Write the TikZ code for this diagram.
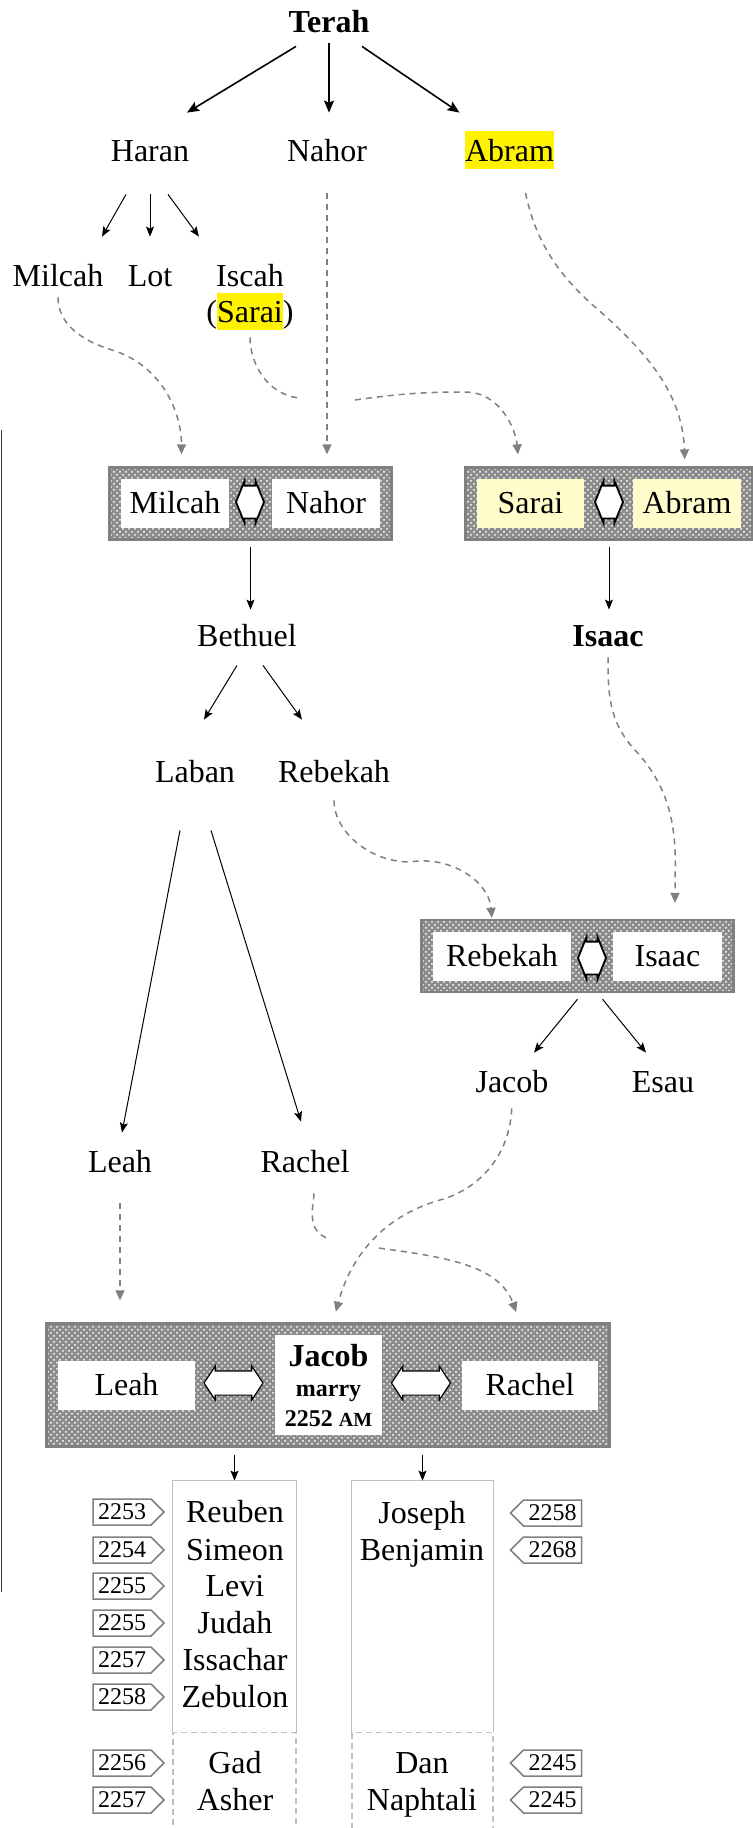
\documentclass[tikz,border=0pt]{standalone}
\usepackage{fontspec}
\setmainfont{Liberation Serif}
\usetikzlibrary{arrows.meta,positioning,shapes.arrows,shapes.symbols,patterns,fit,backgrounds}

\newcommand{\hlname}[1]{{\setlength{\fboxsep}{0pt}\colorbox{yellow}{\rule[-4pt]{0pt}{18.5pt}#1}}}

\tikzset{
  person/.style={inner sep=0pt, text height=11pt, text depth=4pt, anchor=base, font=\fontsize{16}{19}\selectfont},
  spouse/.style={fill=white, inner sep=0pt, minimum height=24.5pt, text height=11pt, text depth=1pt, font=\fontsize{16}{19}\selectfont},
  groom/.style={fill=white, inner sep=0pt, minimum width=53.5pt, minimum height=50pt, align=center, font=\bfseries\fontsize{12}{15}\selectfont},
  couple/.style={draw=gray, line width=1.25pt, preaction={fill=gray!90}, pattern=crosshatch dots, pattern color=white, inner sep=5.5pt},
  wedlock/.style={double arrow, draw, fill=white, line width=0.9pt, inner xsep=0pt, inner ysep=7.75pt, text height=0pt, text depth=0pt, minimum height=14pt, double arrow head extend=2.25pt, double arrow tip angle=136},
  wedlockwide/.style={wedlock, line width=0.6pt, inner ysep=5.75pt, minimum height=29.5pt, double arrow head extend=2.5pt, double arrow tip angle=113},
  kid/.style={-{Stealth[length=5pt,width=4pt,inset=1pt]}, line width=0.5pt},
  bigkid/.style={-{Stealth[length=6pt,width=5pt,inset=1pt]}, line width=0.8pt},
  wed/.style={draw=gray, line width=0.75pt, dash pattern=on 3pt off 2.5pt},
  wedto/.style={wed, -{Triangle[length=5pt,width=4.5pt]}},
  sonbox/.style={minimum height=125.5pt, inner sep=0pt},
  sonline/.style={draw=gray!50, line width=0.75pt},
  maidbox/.style={draw=gray!50, line width=0.75pt, dash pattern=on 3pt off 2pt, minimum height=59pt, inner sep=0pt},
  yeartag/.style={signal, draw=gray, line width=0.75pt, fill=white, inner xsep=2.5pt, inner ysep=0pt, minimum height=13pt, signal pointer angle=90, font=\fontsize{12}{14}\selectfont}
}

\begin{document}
\begin{tikzpicture}[x=0.5pt, y=-0.5pt]
\useasboundingbox (0,0) rectangle (752,1828);

% page edge
\draw[black!80, line width=0.75pt] (1.5,430) -- (1.5,1592);

% Terah and his sons
\node[person, font=\fontsize{16}{19}\selectfont\bfseries] (terah) at (329,32) {Terah};
\node[person] (haran) at (150,161) {Haran};
\node[person] (nahor) at (327,161) {Nahor};
\node[person, fill=yellow, text height=15pt] (abram) at (509.5,161) {Abram};

\node[person] (milcah) at (58,286) {Milcah};
\node[person] (lot) at (150,286) {Lot};
\node[person] (iscah) at (250,286) {Iscah};
\node[person] (iscahsarai) at (250,322) {(\hlname{Sarai})};

\draw[bigkid] ([xshift=-16.5pt,yshift=-3pt]terah.south) -- ([xshift=18.5pt,yshift=13pt]haran.north);
\draw[bigkid] ([yshift=-1.5pt]terah.south) -- ([xshift=1pt,yshift=13pt]nahor.north);
\draw[bigkid] ([xshift=16.5pt,yshift=-3pt]terah.south) -- ([xshift=-25pt,yshift=9pt]abram.north);

\draw[kid] ([xshift=-12pt,yshift=-12.5pt]haran.south) -- ([xshift=22pt,yshift=13.5pt]milcah.north);
\draw[kid] ([yshift=-12.5pt]haran.south) -- ([yshift=13.5pt]lot.north);
\draw[kid] ([xshift=9pt,yshift=-12.5pt]haran.south) -- ([xshift=-25.5pt,yshift=13.5pt]iscah.north);

% first marriages
\node[spouse, minimum width=54pt] (cMilcah) at (175,503.5) {Milcah};
\node[spouse, minimum width=54pt] (cNahor) at (326,503.5) {Nahor};
\node[wedlock] (aMN) at (250,502) {};

\node[spouse, minimum width=53.5pt, fill=yellow!20] (cSarai) at (530.5,503.5) {Sarai};
\node[spouse, minimum width=54pt, fill=yellow!20] (cAbram) at (687,503.5) {Abram};
\node[wedlock] (aSA) at (609,502) {};

\begin{scope}[on background layer]
  \node[couple, fit=(cMilcah)(cNahor)] (milcahnahor) {};
  \node[couple, fit=(cSarai)(cAbram)] (saraiabram) {};
\end{scope}

\draw[wedto, shorten <=1.5pt, shorten >=6pt] (milcah.south) to[out=-90,in=163] (112,350) to[out=-17,in=90] ([xshift=-34.5pt]milcahnahor.north);
\draw[wedto, shorten <=12pt, shorten >=6pt] (nahor.south) -- (nahor.south |- milcahnahor.north);
\coordinate (sgapL) at (300,398);
\coordinate (sgapR) at (355,400);
\draw[wed, shorten <=3.5pt] (iscahsarai.south) to[out=-90,in=175] (sgapL);
\draw[wedto, shorten >=6pt] (sgapR) to[out=8,in=180] (465,392) to[out=0,in=95] ([xshift=-45pt]saraiabram.north);
\draw[wedto, shorten <=12pt, shorten >=3.5pt] ([xshift=5.5pt]abram.south) to[out=-78,in=139] (595,307) to[out=-41,in=92] ([xshift=38pt]saraiabram.north);

% next generation
\node[person] (bethuel) at (247,646) {Bethuel};
\node[person, font=\fontsize{16}{19}\selectfont\bfseries] (isaac) at (608,646) {Isaac};
\node[person] (laban) at (195,782) {Laban};
\node[person] (rebekah) at (334,782) {Rebekah};

\draw[kid, shorten <=3pt, shorten >=7pt] (milcahnahor.south) -- (milcahnahor.south |- bethuel.north);
\draw[kid, shorten <=3pt, shorten >=7pt] (saraiabram.south) -- (saraiabram.south |- isaac.north);
\draw[kid] ([xshift=-5pt,yshift=-5.5pt]bethuel.south) -- ([xshift=4.5pt,yshift=20pt]laban.north);
\draw[kid] ([xshift=8pt,yshift=-5.5pt]bethuel.south) -- ([xshift=-16pt,yshift=20pt]rebekah.north);

\node[spouse, minimum width=69pt] (cRebekah) at (502,956) {Rebekah};
\node[spouse, minimum width=54.5pt] (cIsaac) at (667.5,956) {Isaac};
\node[wedlock] (aRI) at (592,958) {};
\begin{scope}[on background layer]
  \node[couple, fit=(cRebekah)(cIsaac)] (rebekahisaac) {};
\end{scope}

\draw[wedto, shorten <=5pt, shorten >=0.5pt] (rebekah.south) to[out=-90,in=180] (410,862) to[out=10,in=95] ([xshift=-42.75pt]rebekahisaac.north);
\draw[wedto, shorten <=1.5pt, shorten >=8pt] (isaac.south) to[out=-90,in=133] (635,750) to[out=-47,in=90] ([xshift=48.75pt]rebekahisaac.north);

\node[person] (jacob) at (512,1092) {Jacob};
\node[person] (esau) at (663,1092) {Esau};
\node[person] (leah) at (120,1172) {Leah};
\node[person] (rachel) at (305,1172) {Rachel};

\draw[kid] ([yshift=-3pt]rebekahisaac.south) -- ([xshift=11pt,yshift=8.5pt]jacob.north);
\draw[kid] ([xshift=12.5pt,yshift=-3pt]rebekahisaac.south) -- ([xshift=-8.5pt,yshift=8.5pt]esau.north);
\draw[kid] ([xshift=-7.5pt,yshift=-20pt]laban.south) -- ([xshift=1pt,yshift=8.5pt]leah.north);
\draw[kid] ([xshift=8pt,yshift=-20pt]laban.south) -- ([xshift=-2pt,yshift=14pt]rachel.north);

% Jacob and his wives
\node[spouse, minimum width=68.5pt] (cLeah) at (126.5,1385) {Leah};
\node[groom] (cJacob) at (328.5,1385) {{\fontsize{16}{15}\selectfont Jacob}\\marry\\2252 {\fontsize{10}{15}\selectfont AM}};
\node[spouse, minimum width=68pt] (cRachel) at (530,1385) {Rachel};
\node[wedlockwide] (aLJ) at (233.5,1383) {};
\node[wedlockwide] (aJR) at (421,1383) {};
\begin{scope}[on background layer]
  \node[couple, fit=(cLeah)(cJacob)(cRachel)] (jacobwives) {};
\end{scope}

\draw[wedto, shorten <=11.5pt, shorten >=11pt] (leah.south) -- (leah.south |- jacobwives.north);
\draw[wedto, shorten <=4pt, shorten >=5.5pt] (jacob.south) to[out=-92,in=16] (440,1200) to[out=196,in=75] ([xshift=2.5pt]jacobwives.north);
\coordinate (rgapL) at (327,1238);
\coordinate (rgapR) at (379,1248);
\draw[wed, shorten <=6.5pt] ([xshift=4.5pt]rachel.south) to[out=-90,in=160] (rgapL);
\draw[wedto, shorten >=5.5pt] (rgapR) to[out=-8,in=110] ([xshift=96pt]jacobwives.north);

% the twelve sons
\node[sonbox, minimum width=61.5pt] (lsons) at (234.5,1606.5) {};
\node[sonbox, minimum width=70.5pt] (rsons) at (422.5,1606.5) {};
\draw[sonline] (lsons.south west) |- (lsons.north east) -- (lsons.south east);
\draw[sonline] (rsons.south west) |- (rsons.north east) -- (rsons.south east);
\node[maidbox, minimum width=61.5pt] (lmaids) at (234.5,1791.5) {};
\node[maidbox, minimum width=70.5pt] (rmaids) at (422.5,1791.5) {};

\draw[kid, shorten <=3.5pt] (jacobwives.south -| lsons.north) -- (lsons.north);
\draw[kid, shorten <=3.5pt] (jacobwives.south -| rsons.north) -- (rsons.north);

\foreach \son/\yr/\yy [count=\i] in {Reuben/2253/1522, Simeon/2254/1560, Levi/2255/1596, Judah/2255/1633, Issachar/2257/1670, Zebulon/2258/1707, Gad/2256/1773, Asher/2257/1810}{
  \node[person] (lson\i) at (235,\yy) {\son};
  \node[yeartag, signal to=east] (lyear\i) at (122,\yy-10) {\yr};
}
\foreach \son/\yr/\yy [count=\i] in {Joseph/2258/1523, Benjamin/2268/1560, Dan/2245/1773, Naphtali/2245/1810}{
  \node[person] (rson\i) at (422,\yy) {\son};
  \node[yeartag, signal to=west] (ryear\i) at (552.5,\yy-10) {\yr};
}
\end{tikzpicture}
\end{document}
